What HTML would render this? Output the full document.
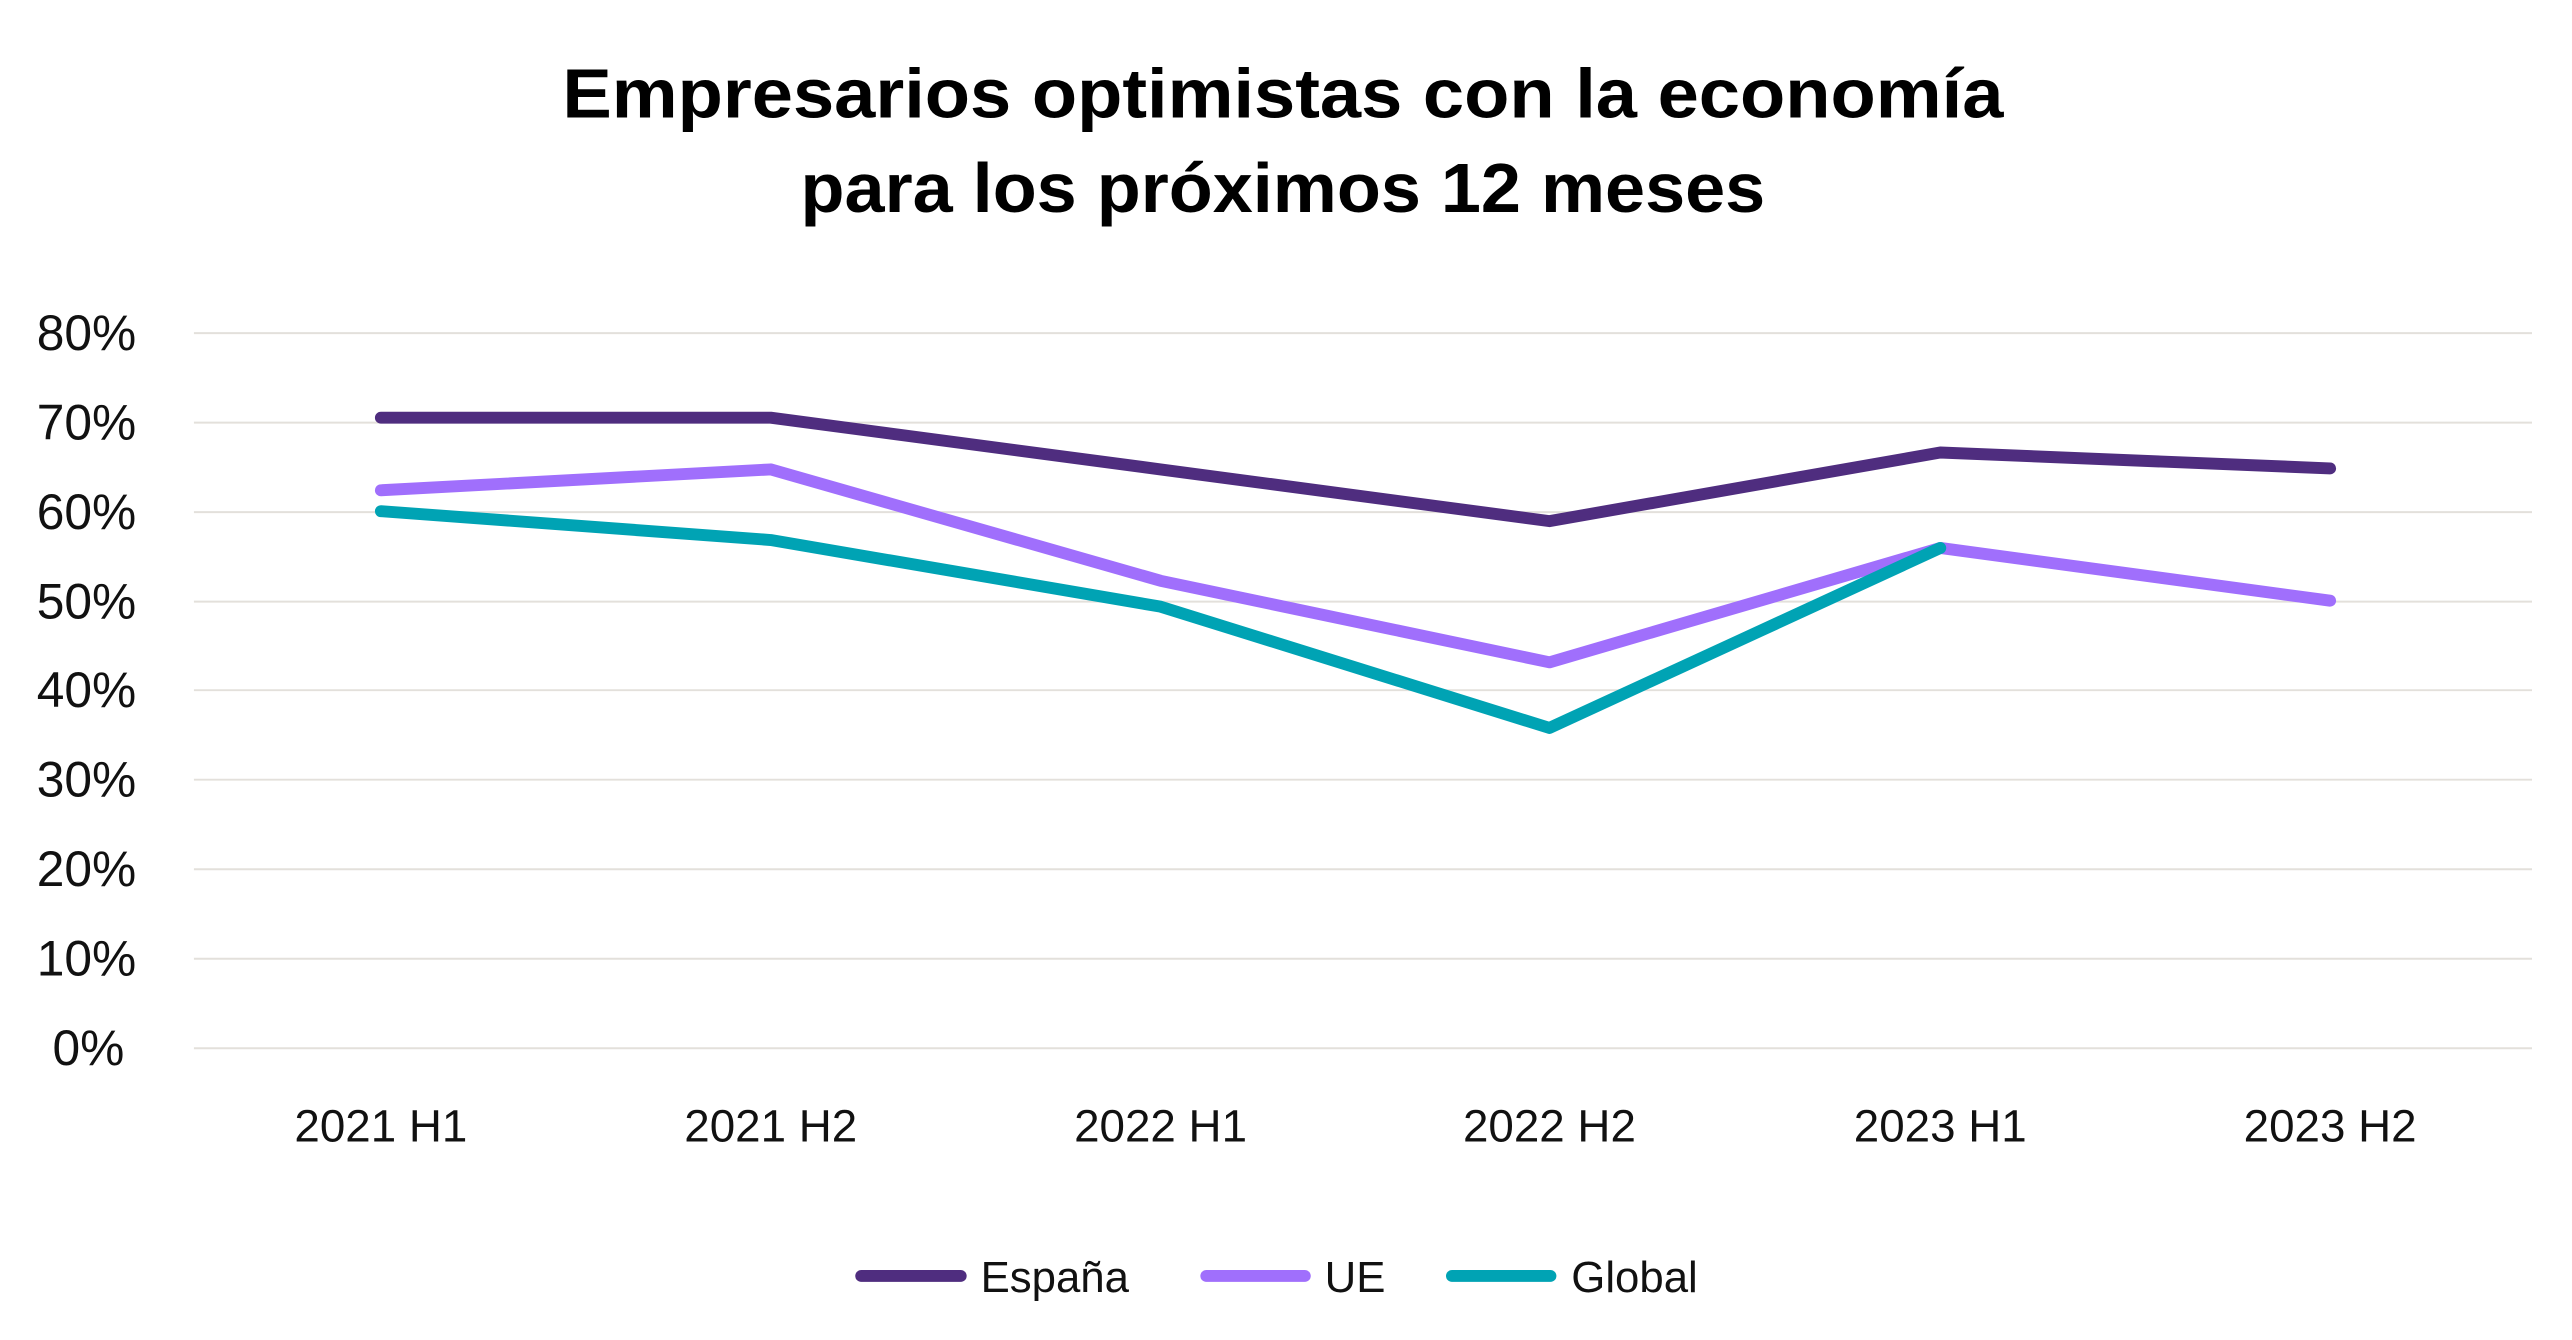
<!DOCTYPE html>
<html><head><meta charset="utf-8"><style>html,body{margin:0;padding:0;background:#fff}svg{display:block}</style></head>
<body>
<svg width="2572" height="1340" viewBox="0 0 2572 1340" xmlns="http://www.w3.org/2000/svg" font-family="Liberation Sans, sans-serif">
<g transform="scale(0.9945)">
<text x="1290" y="118" font-size="70" font-weight="bold" text-anchor="middle" textLength="1449" lengthAdjust="spacingAndGlyphs" fill="#000">Empresarios optimistas con la economía</text>
<text x="1290" y="213" font-size="70" font-weight="bold" text-anchor="middle" textLength="970" lengthAdjust="spacingAndGlyphs" fill="#000">para los próximos 12 meses</text>
<g stroke="#e3e0db" stroke-width="2">
<line x1="195" x2="2546" y1="335" y2="335"/><line x1="195" x2="2546" y1="425" y2="425"/>
<line x1="195" x2="2546" y1="515" y2="515"/><line x1="195" x2="2546" y1="605" y2="605"/>
<line x1="195" x2="2546" y1="694" y2="694"/><line x1="195" x2="2546" y1="784" y2="784"/>
<line x1="195" x2="2546" y1="874" y2="874"/><line x1="195" x2="2546" y1="964" y2="964"/>
<line x1="195" x2="2546" y1="1054" y2="1054"/>
</g>
<g font-size="50" text-anchor="end" fill="#111">
<text x="137" y="352">80%</text><text x="137" y="442">70%</text><text x="137" y="532">60%</text>
<text x="137" y="622">50%</text><text x="137" y="711">40%</text><text x="137" y="801">30%</text>
<text x="137" y="891">20%</text><text x="137" y="981">10%</text><text x="125" y="1071">0%</text>
</g>
<g font-size="46" text-anchor="middle" fill="#111">
<text x="383" y="1148">2021 H1</text><text x="775" y="1148">2021 H2</text><text x="1167" y="1148">2022 H1</text>
<text x="1558" y="1148">2022 H2</text><text x="1951" y="1148">2023 H1</text><text x="2343" y="1148">2023 H2</text>
</g>
<g fill="none" stroke-width="12" stroke-linecap="round" stroke-linejoin="round">
<polyline stroke="#a06ffc" points="383,493 775,472 1167,584 1558,666 1951,551 2343,604"/>
<polyline stroke="#00a3b4" points="383,514 775,543 1167,610 1558,732 1951,551"/>
<polyline stroke="#4f2d7f" points="383,420 775,420 1167,472 1558,524 1951,455 2343,471"/>
<line stroke="#4f2d7f" x1="866" x2="966" y1="1283" y2="1283"/>
<line stroke="#a06ffc" x1="1213" x2="1312" y1="1283" y2="1283"/>
<line stroke="#00a3b4" x1="1460" x2="1559" y1="1283" y2="1283"/>
</g>
<g font-size="44" fill="#111">
<text x="986" y="1299">España</text><text x="1332" y="1299">UE</text><text x="1580" y="1299">Global</text>
</g>
</g>
</svg>
</body></html>
